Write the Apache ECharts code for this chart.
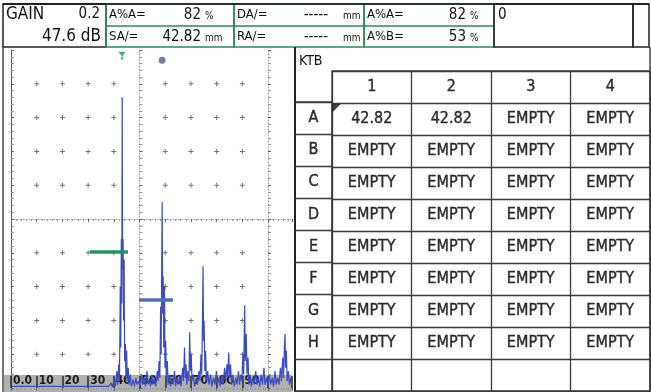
<!DOCTYPE html>
<html><head><meta charset="utf-8">
<script src="https://cdn.jsdelivr.net/npm/echarts/dist/echarts.min.js"></script>
<style>html,body{margin:0;padding:0;background:#fff}#c{width:651px;height:392px}</style>
</head><body><div id="c"></div>
<script>
// ---------- DATA ----------
const xTickLabels = ['0.0','10','20','30','40','50','60','70','80','90'];
const traceX = [0,38,39.0,39.4,40.2,40.6,41.2,41.5,41.9,42.2,42.5,42.7,42.9,43.1,43.25,43.4,43.6,43.8,44.0,44.2,44.5,44.7,45.0,45.2,45.6,45.9,46.4,46.8,47.5,48,48.6,49,49.6,50.2,50.8,51.2,51.8,52.3,52.9,53.3,53.8,54.3,54.8,55.2,55.8,56.3,56.9,57.2,57.6,57.9,58.2,58.4,58.6,58.8,59.0,59.2,59.4,59.7,59.9,60.2,60.4,60.8,61.1,61.6,62,62.5,63,63.6,64,64.6,65.1,65.7,66.1,66.8,67.1,67.5,67.8,68.1,68.4,68.8,69.2,69.5,69.8,70.1,70.4,70.9,71.4,72,72.5,73.1,73.5,73.9,74.2,74.5,74.7,74.9,75.1,75.4,75.7,76,76.5,77,77.6,78.1,78.8,79.3,79.9,80.3,80.9,81.4,82,82.5,83.1,83.5,84,84.3,84.7,85,85.4,85.8,86.3,86.8,87.4,87.9,88.5,88.9,89.4,89.8,90.2,90.5,90.9,91.1,91.5,91.8,92.2,92.5,93,93.5,94.1,94.6,95.2,95.6,96.2,96.7,97.3,97.8,98.4,98.8,99.4,99.9,100.5,101,101.6,102.1,102.7,103.1,103.7,104.2,104.8,105.2,105.7,106,106.4,106.6,106.8,107.1,107.4,107.9,108.3,108.8,109.3];
const traceA = [0.5,0.5,1.5,0.3,2.5,0.5,5,1,7,2,30,12,44,25,86,35,44,20,38,8,13,3,11,2,6,1,4,0.5,2.5,0.5,3,1,2,0.5,4,1,3,0.5,5,1,2.5,0.5,4,1,3,0.5,5,2,8,3,24,10,33,55,22,33,12,30,6,14,3,8,1,4,0.5,3,1,5,0.5,3,1,4,0.5,6,2,12,3,7,1,5,2,16.5,5,10,2,4,0.5,3,1,5,2,10,4,22,36,14,20,5,11,2,5,1,4,0.5,3,1,5,1,3,0.5,4,1,6,2,7,3,10.5,3,7,1,4,0.5,3,1,5,1,4,2,10,4,24.5,8,16,4,9,1,4,0.5,3,1,5,1,3,0.5,4,1,6,1,3,0.5,4,1,3,0.5,5,1,3,1,6,2,9,3,13,16,6,11,2,5,1,3,1];
const gateAX = [30.6, 45.5];
const gateALevel = 40.2;
const gateBX = [49.8, 63.0];
const gateBLevel = 26;
const gateAMarker = [43.2, 98.3];
const gateBMarker = [58.8, 97.0];

const gainStep = '0.2';
const gainValue = '47.6 dB';
const readingLabels = [['A%A=','SA/='],['DA/=','RA/='],['A%A=','A%B=']];
const readingValues = [['82','42.82'],['-----','-----'],['82','53']];
const readingUnits  = [['%','mm'],['mm','mm'],['%','%']];
const infoText = '0';

const tableTitle = 'KTB';
const tableCols = ['1','2','3','4'];
const tableRows = ['A','B','C','D','E','F','G','H'];
const tableValues = [
  ['42.82','42.82','EMPTY','EMPTY'],
  ['EMPTY','EMPTY','EMPTY','EMPTY'],
  ['EMPTY','EMPTY','EMPTY','EMPTY'],
  ['EMPTY','EMPTY','EMPTY','EMPTY'],
  ['EMPTY','EMPTY','EMPTY','EMPTY'],
  ['EMPTY','EMPTY','EMPTY','EMPTY'],
  ['EMPTY','EMPTY','EMPTY','EMPTY'],
  ['EMPTY','EMPTY','EMPTY','EMPTY']
];
const gridMarkX = [10,20,30,40,60,70,80,90];
const gridMarkY = [10,20,30,40,60,70,80,90];

// ---------- BUILD ----------
const NARROW = "'Liberation Sans Narrow','DejaVu Sans Condensed',sans-serif";
const COND = "'DejaVu Sans Condensed','Liberation Sans Narrow',sans-serif";
const XMAX = 109.3;
const chart = echarts.init(document.getElementById('c'), null, {renderer:'canvas'});

const plusData = [];
gridMarkX.forEach(x => gridMarkY.forEach(y => plusData.push([x, y])));
const trace = traceX.map((x, i) => [x, traceA[i]]);

const hdrRow = '#hdr', endRow = '#end';
const cellData = [];
tableCols.forEach(c => cellData.push([c, hdrRow, c]));
tableRows.forEach((r, ri) => tableCols.forEach((c, ci) => cellData.push([c, r, tableValues[ri][ci]])));
const rowLabelData = tableRows.map(r => ['', r, r]);

function guideY(offset, dotted) {
  return {gridIndex:0, type:'value', min:0, max:100, interval:10, position:'left', offset:offset,
    axisLine:{show:true, lineStyle:{color: dotted ? '#9a9a9a' : '#555', width:1, type: dotted ? [1,2] : 'solid'}},
    axisTick:{show:true, inside:true, length:3, lineStyle:{color:'#666'}},
    minorTick:{show:true, splitNumber:5, length:3, lineStyle:{color:'#999'}},
    axisLabel:{show:false}, splitLine:{show:false}};
}
function guideX(offset, dotted, minorSplit) {
  return {gridIndex:0, type:'value', min:0, max:XMAX, interval:10, position:'top', offset:offset,
    axisLine:{show:dotted, lineStyle:{color:'#9a9a9a', width:1, type:[1,2]}},
    axisTick:{show:true, inside:true, length:3, lineStyle:{color:'#666'}},
    minorTick:{show:true, splitNumber:minorSplit, length:2, lineStyle:{color:'#999'}},
    axisLabel:{show:false}, splitLine:{show:false}};
}

const graphic = [];
graphic.push({type:'rect', z:-10, shape:{x:4, y:375, width:288, height:17}, style:{fill:'#b0b0b0'}});
graphic.push({type:'rect', shape:{x:3, y:4, width:103, height:43}, style:{fill:'none', stroke:'#222', lineWidth:1.5}});
const boxLeft = [106, 234, 364], boxRight = [234, 364, 494];
const valueRight = [201, 328, 466], unitLeft = [205, 343, 470];
const rowY = [15, 37];
boxLeft.forEach((bx, i) => {
  graphic.push({type:'rect', shape:{x:bx, y:4, width:boxRight[i]-bx, height:43}, style:{fill:'none', stroke:'#2b8a5b', lineWidth:1.5}});
  graphic.push({type:'line', shape:{x1:bx, y1:26, x2:boxRight[i], y2:26}, style:{stroke:'#2b8a5b', lineWidth:1.5}});
  [0,1].forEach(r => {
    graphic.push({type:'text', style:{text:readingLabels[i][r], x:bx+3, y:rowY[r], font:'13px '+NARROW, fill:'#111', align:'left', verticalAlign:'middle'}});
    graphic.push({type:'text', style:{text:readingValues[i][r], x:valueRight[i], y:rowY[r], font:'15px '+NARROW, fill:'#111', align:'right', verticalAlign:'middle'}});
    graphic.push({type:'text', style:{text:readingUnits[i][r], x:unitLeft[i], y:rowY[r]+1, font:'10px '+NARROW, fill:'#111', align:'left', verticalAlign:'middle'}});
  });
});
graphic.push({type:'rect', shape:{x:494, y:4, width:139, height:43}, style:{fill:'none', stroke:'#222', lineWidth:1.5}});
graphic.push({type:'rect', shape:{x:633, y:4, width:16, height:43}, style:{fill:'none', stroke:'#222', lineWidth:1.5}});
graphic.push({type:'line', shape:{x1:3, y1:4, x2:649, y2:4}, style:{stroke:'#111', lineWidth:1.5}});
graphic.push({type:'text', style:{text:'GAIN', x:6, y:15, font:'17px '+COND, fill:'#111', align:'left', verticalAlign:'middle'}});
graphic.push({type:'text', style:{text:gainStep, x:100, y:14, font:'15px '+COND, fill:'#111', align:'right', verticalAlign:'middle'}});
graphic.push({type:'text', style:{text:gainValue, x:101, y:37, font:'17px '+COND, fill:'#111', align:'right', verticalAlign:'middle'}});
graphic.push({type:'text', style:{text:infoText, x:498, y:15, font:'15px '+NARROW, fill:'#111', align:'left', verticalAlign:'middle'}});
graphic.push({type:'line', shape:{x1:295, y1:47, x2:295, y2:392}, style:{stroke:'#222', lineWidth:2}});
graphic.push({type:'line', shape:{x1:650, y1:47, x2:650, y2:392}, style:{stroke:'#444', lineWidth:1.5}});
graphic.push({type:'text', style:{text:tableTitle, x:299, y:61, font:'14px '+NARROW, fill:'#111', align:'left', verticalAlign:'middle'}});
graphic.push({type:'line', shape:{x1:3, y1:47, x2:3, y2:392}, style:{stroke:'#444', lineWidth:1.5}});

const cellLabel = {show:true, position:'inside', formatter: p => p.value[2], color:'#000', fontSize:16,
  fontFamily:COND, textBorderColor:'#000', textBorderWidth:0.4};

const option = {
  animation:false,
  backgroundColor:'#ffffff',
  graphic: graphic,
  grid:[
    {left:11, top:50, width:281, height:338, show:false},
    {left:295, top:102, width:37, height:289, show:true, borderColor:'#3a3a3a', borderWidth:1.3},
    {left:332, top:71, width:318, height:320, show:true, borderColor:'#3a3a3a', borderWidth:1.3}
  ],
  xAxis:[
    {gridIndex:0, type:'value', min:0, max:XMAX, interval:10, position:'bottom',
      axisLine:{show:false},
      axisTick:{show:true, inside:true, length:12, lineStyle:{color:'#2a2a2a', width:1.5}},
      axisLabel:{show:true, inside:true, align:'left', verticalAlign:'bottom', margin:1, padding:[0,0,0,2],
        color:'#1a1a1a', fontSize:12, fontFamily:NARROW, fontWeight:'bold',
        formatter: v => { const i = Math.round(v/10); return (Math.abs(v - i*10) < 1e-6 && i < xTickLabels.length) ? xTickLabels[i] : ''; }},
      splitLine:{show:false}},
    guideX(0, false, 10),
    guideX(-169, true, 5),
    {gridIndex:1, type:'category', data:[''], axisLine:{show:false}, axisTick:{show:false}, axisLabel:{show:false}, splitLine:{show:false}},
    {gridIndex:2, type:'category', data:tableCols, axisLine:{show:false}, axisTick:{show:false}, axisLabel:{show:false},
      splitLine:{show:true, interval:0, lineStyle:{color:'#3a3a3a', width:1.3}}}
  ],
  yAxis:[
    guideY(0, false),
    guideY(-128.5, true),
    guideY(-257, true),
    {gridIndex:1, type:'category', inverse:true, data:tableRows.concat([endRow]), axisLine:{show:false}, axisTick:{show:false}, axisLabel:{show:false},
      splitLine:{show:true, interval:0, lineStyle:{color:'#3a3a3a', width:1.3}}},
    {gridIndex:2, type:'category', inverse:true, data:[hdrRow].concat(tableRows, [endRow]), axisLine:{show:false}, axisTick:{show:false}, axisLabel:{show:false},
      splitLine:{show:true, interval:0, lineStyle:{color:'#3a3a3a', width:1.3}}}
  ],
  series:[
    {type:'scatter', xAxisIndex:0, yAxisIndex:0, silent:true, data:plusData,
      symbol:'path://M2,0h1v5h-1z M0,2h5v1h-5z', symbolSize:5, itemStyle:{color:'#555'}, z:1},
    {type:'line', xAxisIndex:0, yAxisIndex:0, data:trace, showSymbol:false, symbol:'none',
      lineStyle:{color:'#3b4bc0', width:1.2}, z:3},
    {type:'line', xAxisIndex:0, yAxisIndex:0, data:gateAX.map(x => [x, gateALevel]), showSymbol:false, symbol:'none',
      lineStyle:{color:'#1f9a5e', width:3.5}, z:4},
    {type:'line', xAxisIndex:0, yAxisIndex:0, data:gateBX.map(x => [x, gateBLevel]), showSymbol:false, symbol:'none',
      lineStyle:{color:'#4f6fb5', width:3.5}, z:4},
    {type:'scatter', xAxisIndex:0, yAxisIndex:0, data:[gateAMarker], symbol:'path://M0,0h8l-4,5z M3,5h2v3h-2z', symbolSize:[7,8],
      itemStyle:{color:'#1f9a5e'}, z:5},
    {type:'scatter', xAxisIndex:0, yAxisIndex:0, data:[gateBMarker], symbol:'path://M4,0a4,4 0 1 1 -0.01,0z', symbolSize:7,
      itemStyle:{color:'#55607a'}, z:5},
    {type:'scatter', xAxisIndex:3, yAxisIndex:3, data:rowLabelData, symbolSize:1, itemStyle:{color:'rgba(0,0,0,0)'}, label:cellLabel},
    {type:'scatter', xAxisIndex:4, yAxisIndex:4, data:cellData, symbolSize:1, itemStyle:{color:'rgba(0,0,0,0)'}, label:cellLabel},
    {type:'scatter', xAxisIndex:4, yAxisIndex:4, data:[[tableCols[0], tableRows[0]]], symbol:'path://M0,0h8l-8,8z', symbolSize:8,
      symbolOffset:[-35, -11], itemStyle:{color:'#111'}, z:5}
  ]
};
chart.setOption(option);
</script>
</body></html>
